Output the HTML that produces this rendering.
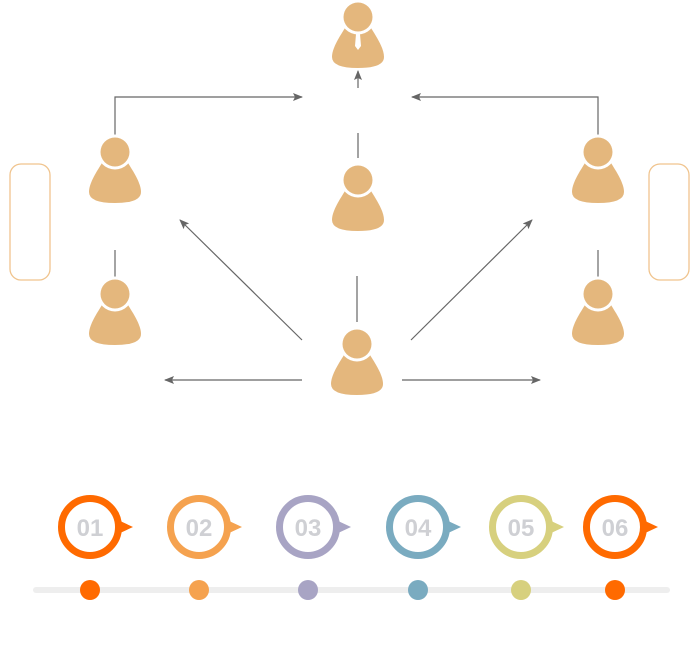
<!DOCTYPE html>
<html><head><style>
body{margin:0;background:#fff;width:700px;height:649px;overflow:hidden}
svg{display:block}
text{font-family:"Liberation Sans",sans-serif;font-weight:bold;font-size:24px;fill:#cfd0d4}
</style></head><body>
<svg width="700" height="649" viewBox="0 0 700 649">
<defs>
<marker id="a" markerWidth="10" markerHeight="8" refX="9" refY="4" orient="auto" markerUnits="userSpaceOnUse">
<path d="M0,0 L10,4 L0,8 L2,4 Z" fill="#666"/></marker>
<g id="p">
<path d="M-13,11 L13,11 C20,22 26,32 26,40 Q26,51 0,51 Q-26,51 -26,40 C-26,32 -20,22 -13,11 Z" fill="#e4b77d"/>
<circle r="17.5" fill="#fff"/>
<circle r="14.5" fill="#e4b77d"/>
</g>
</defs>
<g stroke="#666" stroke-width="1.2" fill="none">
<path d="M115,135 V97 H302" marker-end="url(#a)"/>
<path d="M598,135 V97 H412" marker-end="url(#a)"/>
<path d="M358,88 V71" marker-end="url(#a)"/>
<path d="M358,133 V158"/>
<path d="M115,250 V278"/>
<path d="M598,250 V278"/>
<path d="M357,276 V322"/>
<path d="M302,340 L180,220" marker-end="url(#a)"/>
<path d="M411,340 L532,220" marker-end="url(#a)"/>
<path d="M302,380 H165" marker-end="url(#a)"/>
<path d="M402,380 H540" marker-end="url(#a)"/>
</g>
<rect x="10" y="164" width="40" height="116" rx="11" fill="none" stroke="#f0c48e" stroke-width="1.3"/>
<rect x="649" y="164" width="40" height="116" rx="11" fill="none" stroke="#f0c48e" stroke-width="1.3"/>
<use href="#p" x="358" y="17"/>
<path d="M356,34 L360,34 L361,46 L358,50 L355,46 Z" fill="#fff"/>
<use href="#p" x="115" y="152"/>
<use href="#p" x="358" y="180"/>
<use href="#p" x="598" y="152"/>
<use href="#p" x="115" y="294"/>
<use href="#p" x="598" y="294"/>
<use href="#p" x="357" y="344"/>
<rect x="33" y="587" width="637" height="6" rx="3" fill="#eeeeee"/>
<g>
<circle cx="90" cy="527" r="28.5" fill="#fff" stroke="#ff6a00" stroke-width="7"/><path d="M118,520 L133,527 L118,534 Z" fill="#ff6a00"/><text x="90" y="536" text-anchor="middle">01</text><circle cx="90" cy="590" r="10" fill="#ff6a00"/>
<circle cx="199" cy="527" r="28.5" fill="#fff" stroke="#f5a24f" stroke-width="7"/><path d="M227,520 L242,527 L227,534 Z" fill="#f5a24f"/><text x="199" y="536" text-anchor="middle">02</text><circle cx="199" cy="590" r="10" fill="#f5a24f"/>
<circle cx="308" cy="527" r="28.5" fill="#fff" stroke="#a8a4c4" stroke-width="7"/><path d="M336,520 L351,527 L336,534 Z" fill="#a8a4c4"/><text x="308" y="536" text-anchor="middle">03</text><circle cx="308" cy="590" r="10" fill="#a8a4c4"/>
<circle cx="418" cy="527" r="28.5" fill="#fff" stroke="#7aabc0" stroke-width="7"/><path d="M446,520 L461,527 L446,534 Z" fill="#7aabc0"/><text x="418" y="536" text-anchor="middle">04</text><circle cx="418" cy="590" r="10" fill="#7aabc0"/>
<circle cx="521" cy="527" r="28.5" fill="#fff" stroke="#d7d07e" stroke-width="7"/><path d="M549,520 L564,527 L549,534 Z" fill="#d7d07e"/><text x="521" y="536" text-anchor="middle">05</text><circle cx="521" cy="590" r="10" fill="#d7d07e"/>
<circle cx="615" cy="527" r="28.5" fill="#fff" stroke="#ff6a00" stroke-width="7"/><path d="M643,520 L658,527 L643,534 Z" fill="#ff6a00"/><text x="615" y="536" text-anchor="middle">06</text><circle cx="615" cy="590" r="10" fill="#ff6a00"/>
</g>
</svg>
</body></html>
